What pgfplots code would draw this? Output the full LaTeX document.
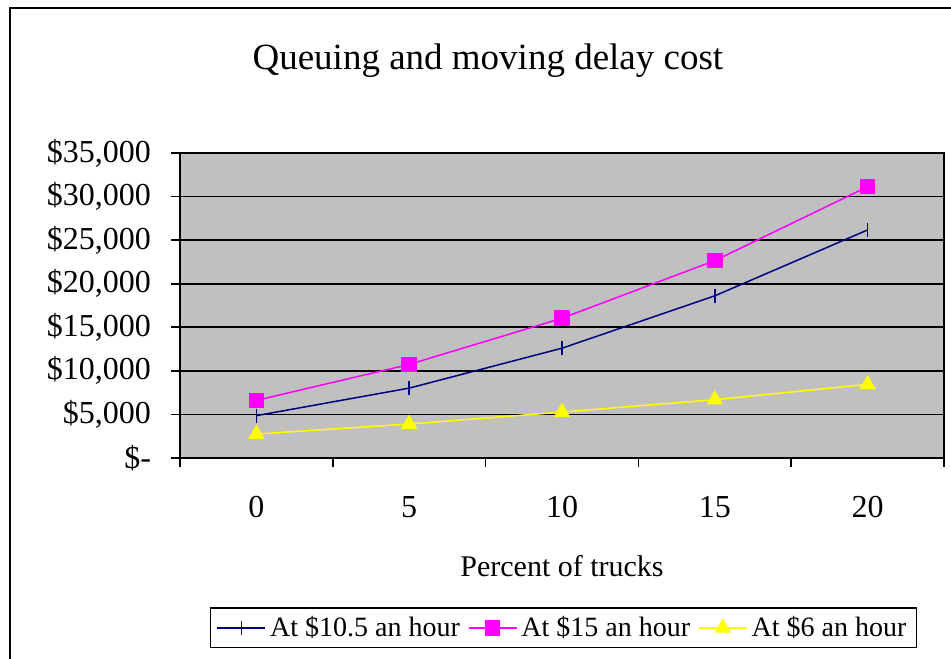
\documentclass[border=0pt]{standalone}
\usepackage{fontspec}
\setmainfont{Liberation Serif}
\usepackage{pgfplots}
\pgfplotsset{compat=1.18}

\definecolor{xlnavy}{HTML}{000080}
\definecolor{xlmagenta}{HTML}{FF00FF}
\definecolor{xlyellow}{HTML}{FFFF00}
\definecolor{xlgray}{HTML}{C0C0C0}

\begin{document}
\begin{tikzpicture}[x=1pt,y=1pt]
  % page = 951x658 px at 0.5pt per px
  \useasboundingbox (0,0) rectangle (475.5,329);
  \draw[line width=0.7pt] (5,-20) rectangle (500,325);
  \begin{axis}[
      at={(90pt,100pt)}, anchor=south west,
      scale only axis, width=382pt, height=152.5pt,
      axis background/.style={fill=xlgray},
      axis line style={line width=0.8pt},
      xmin=-0.5, xmax=4.5, ymin=0, ymax=35000,
      xtick={0,...,4}, xticklabels={0,5,10,15,20},
      minor xtick={-0.5,0.5,...,4.5},
      ytick={0,5000,...,35000},
      yticklabels={{\$-},{\$5,000},{\$10,000},{\$15,000},{\$20,000},{\$25,000},{\$30,000},{\$35,000}},
      scaled y ticks=false,
      xtick pos=bottom, ytick pos=left,
      tick align=outside,
      major tick length=4.5pt, minor tick length=4.5pt,
      major x tick style={draw=none},
      tick style={black, line width=0.8pt},
      ymajorgrids,
      major grid style={black, line width=0.8pt},
      tick label style={font=\fontsize{16}{18}\selectfont},
      xticklabel style={yshift=-11pt},
      yticklabel style={xshift=-6.5pt},
      xlabel={Percent of trucks},
      xlabel style={at={(axis description cs:0.5,-0.354)}, anchor=center,
                    font=\fontsize{15}{18}\selectfont},
      title={Queuing and moving delay cost},
      title style={at={(axis description cs:0.403,1.265)}, anchor=center,
                   font=\fontsize{18.5}{22}\selectfont},
      legend style={at={(axis description cs:0.502,-0.557)}, anchor=center,
                    legend columns=-1, draw=black, line width=0.8pt,
                    font=\fontsize{14}{16}\selectfont,
                    /tikz/every even column/.append style={column sep=2pt}},
      legend image code/.code={
        \draw[mark repeat=2,mark phase=2] plot coordinates {(0pt,0pt) (12pt,0pt) (24pt,0pt)};
      },
      clip=false,
    ]
    \addplot[xlnavy, line width=0.75pt, mark=|, mark size=3.5pt] coordinates {
      (0,4860) (1,8020) (2,12600) (3,18610) (4,26170) };
    \addplot[xlmagenta, line width=0.75pt, mark=square*, mark size=3.5pt] coordinates {
      (0,6610) (1,10740) (2,16040) (3,22650) (4,31130) };
    \addplot[xlyellow, line width=0.75pt, mark=triangle*, mark size=4pt] coordinates {
      (0,2750) (1,3900) (2,5270) (3,6690) (4,8450) };
    \legend{At \$10.5 an hour, At \$15 an hour, At \$6 an hour}
  \end{axis}
\end{tikzpicture}
\end{document}
